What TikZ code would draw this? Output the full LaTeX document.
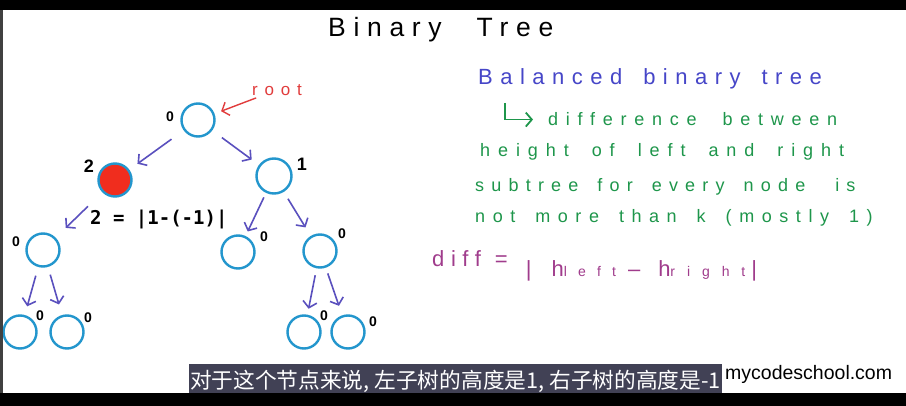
\documentclass[tikz,border=0pt]{standalone}
\usepackage{fontspec}
\setmainfont{Liberation Sans}
\newfontfamily\handfont{Liberation Sans}
\newfontfamily\cjkfont{Noto Sans CJK SC}
\newfontfamily\codefont{DejaVu Sans Mono}
\usetikzlibrary{arrows.meta, positioning}
\definecolor{treeblue}{RGB}{35,150,205}
\definecolor{nodered}{RGB}{240,45,30}
\definecolor{penarrow}{RGB}{90,80,190}
\definecolor{penblue}{RGB}{70,70,200}
\definecolor{pengreen}{RGB}{30,150,75}
\definecolor{penpurple}{RGB}{160,60,140}
\definecolor{penred}{RGB}{225,60,60}
\definecolor{subbg}{RGB}{65,65,85}
% size, letter spacing, word space
\newcommand\penset[3]{\fontsize{#1}{#1}\selectfont\addfontfeature{LetterSpace=#2}\spaceskip=#3\relax}

\begin{document}
\begin{tikzpicture}[
    x=1pt, y=-1pt,
    >={Straight Barb[length=6pt,width=14pt]},
    tnode/.style={circle, draw=treeblue, line width=2.4pt, minimum size=33pt, inner sep=0pt},
    hotnode/.style={tnode, fill=nodered},
    edge/.style={->, line width=1.6pt, draw=penarrow},
    hgt/.style={font=\handfont\bfseries\fontsize{14}{14}\selectfont, inner sep=0pt},
    hand/.style={font=\handfont, inner sep=0pt, anchor=base west},
    subbox/.style={fill=subbg, text=white, minimum width=533pt, minimum height=34pt, inner sep=0pt, font=\cjkfont\fontsize{21.7}{21.7}\selectfont}
]
\useasboundingbox (0,0) rectangle (906,406);
\fill[white] (0,0) rectangle (906,406);

% Title
\node[hand] (title) at (328,37) {\penset{26.5}{29}{35pt}Binary Tree};

% Tree
\node[tnode] (root) at (198,120) {};
\node[hotnode] (l) at (115,180) {};
\node[tnode, minimum size=35pt] (r) at (274,176) {};
\node[tnode] (ll) at (43,250) {};
\node[tnode] (rl) at (238,252) {};
\node[tnode] (rr) at (320,251) {};
\node[tnode] (lll) at (20,332) {};
\node[tnode] (llr) at (67,332) {};
\node[tnode] (rrl) at (304,332) {};
\node[tnode] (rrr) at (348,332) {};

% Heights
\node[hgt] (h_root) at (170,117) {0};
\node[hgt, font=\handfont\bfseries\fontsize{18}{18}\selectfont] (h_l) at (89,166) {2};
\node[hgt, font=\handfont\bfseries\fontsize{18}{18}\selectfont] (h_r) at (302,164) {1};
\node[hgt] (h_ll) at (16,242) {0};
\node[hgt] (h_rl) at (264,237) {0};
\node[hgt] (h_rr) at (342,234) {0};
\node[hgt] (h_lll) at (40,316) {0};
\node[hgt] (h_llr) at (88,318) {0};
\node[hgt] (h_rrl) at (324,316) {0};
\node[hgt] (h_rrr) at (373,322) {0};

% Edges
\draw[edge, shorten <=15pt, shorten >=10pt] (root) -- (l);
\draw[edge, shorten <=12pt, shorten >=9pt] (root) -- (r);
\draw[edge, shorten <=20pt, shorten >=14pt] (l) -- (ll);
\draw[edge, shorten <=5pt, shorten >=5pt] (r) -- (rl);
\draw[edge, shorten <=8pt, shorten >=10pt] (r) -- (rr);
\draw[edge, shorten <=9pt, shorten >=9pt] (ll) -- (lll);
\draw[edge, shorten <=8pt, shorten >=11pt] (ll) -- (llr);
\draw[edge, shorten <=7pt, shorten >=6pt] (rr) -- (rrl);
\draw[edge, shorten <=6pt, shorten >=10pt] (rr) -- (rrr);

% Root pointer
\node[inner sep=0pt, text=penred, font=\handfont] (rootlbl) at (277,90) {\penset{17}{40}{8pt}root};
\draw[edge, draw=penred, line width=1.4pt, shorten <=6pt, shorten >=7pt] (rootlbl) -- (root);

% Difference at red node
\node[anchor=base west, inner sep=0pt, font=\codefont\fontsize{19}{19}\selectfont\bfseries] (calc) at (90,225) {2 = |1-(-1)|};

% Definition
\node[hand, text=penblue] (bal) at (478,85) {\penset{22}{34}{21pt}Balanced binary tree};
\node[hand, text=pengreen] (def1) at (548,126) {\penset{18}{43}{26pt}difference between};
\coordinate (hooktop) at (505,103);
\draw[->, draw=pengreen, line width=1.8pt, shorten >=15pt] (hooktop) |- (def1.west);
\node[hand, text=pengreen] (def2) at (480,157) {\penset{18}{44}{23pt}height of left and right};
\node[hand, text=pengreen] (def3) at (475,192) {\penset{18}{40}{19pt}subtree for every node\hspace{30pt}is};
\node[hand, text=pengreen] (def4) at (475,223) {\penset{18}{42}{20pt}not more than k (mostly 1)};
\node[hand, text=penpurple] (diff) at (432,277) {\penset{22}{30}{0pt}\raisebox{10pt}{diff\hspace{14pt}=}\hspace{18pt}|\hspace{20pt}h{\penset{14}{80}{0pt}left}\hspace{12pt}–\hspace{18pt}h{\penset{14}{85}{0pt}right}\hspace{6pt}|};

% Subtitle and frame
\node[subbox] (sub) at (455.5,381) {对于这个节点来说, 左子树的高度是1, 右子树的高度是-1};
\node[anchor=base west, inner sep=0pt, font=\fontsize{19.5}{19.5}\selectfont] (brand) at (725,380) {mycodeschool.com};
\fill[black] (0,0) rectangle (906,10);
\fill[black] (0,393) rectangle (906,406);
\fill[black!75] (0,10) rectangle (3,393);
\end{tikzpicture}
\end{document}
